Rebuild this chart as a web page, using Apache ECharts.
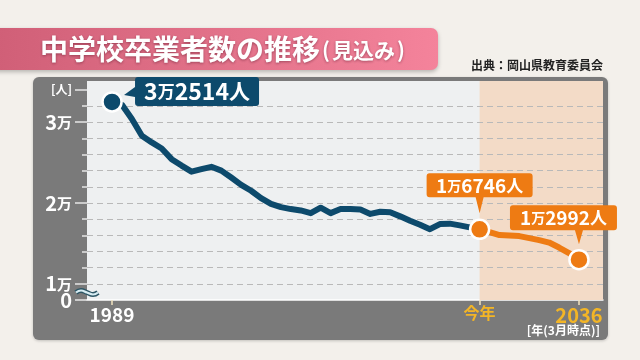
<!DOCTYPE html>
<html><head><meta charset="utf-8">
<script src="https://cdn.jsdelivr.net/npm/echarts@6/dist/echarts.min.js"></script>
<style>html,body{margin:0;padding:0;background:#f3f0eb;} #c{width:640px;height:360px;}</style>
</head><body><div id="c"></div>
<script>
// ---- text ----
const titleMain = '中学校卒業者数の推移';
const titleSub = '見込み';
const sourceText = '出典：岡山県教育委員会';
const unitX = '[年(3月時点)]';

// ---- data ----
const pastYears = [1989,1990,1991,1992,1993,1994,1995,1996,1997,1998,1999,2000,2001,2002,2003,2004,2005,2006,2007,2008,2009,2010,2011,2012,2013,2014,2015,2016,2017,2018,2019,2020,2021,2022,2023,2024,2025,2026];
const pastValues = [32514,32150,30400,28330,27500,26750,25430,24630,23880,24190,24480,24010,23150,22250,21520,20600,19900,19500,19250,19080,18750,19420,18750,19250,19250,19200,18650,18920,18850,18350,17800,17300,16760,17400,17450,17230,16980,16746];
const futureYears = [2026,2027,2028,2029,2030,2031,2032,2033,2034,2035,2036];
const futureValues = [16746,16410,16040,15980,15910,15660,15410,15110,14490,13810,12992];
const currentYear = 2026;

// ---- ticks ----
const xTickValues = [1989, 2026, 2036];
const xTickLabels = ['1989', '今年', '2036'];
const yTickValues = [8000,10000,12000,14000,16000,18000,20000,22000,24000,26000,28000,30000,32000,34000];
const yLabelValues = [10000, 20000, 30000, 34000];
const yLabelTexts = ['1万', '2万', '3万', '[人]'];
const yZeroValue = [8000];
const yZeroText = '0';
const yLongTickValues = [8000, 10000, 20000, 30000, 34000];

// ---- layout / style ----
const X_MIN = 1986.48, X_MAX = 2038.42, Y_MIN = 8000, Y_MAX = 35100;
const NAVY = '#0d4a6c', ORANGE = '#ee7b13', PEACH = '#f3dbc7', GOLD = '#f3b526';
const FONT = "'Noto Sans CJK JP','Noto Sans',sans-serif";

function manText(v) {
  const m = Math.floor(v / 10000);
  const r = String(v % 10000).padStart(4, '0');
  return '{n|' + m + '}{m|万}{n|' + r + '}{p|人}';
}
function calloutRich(big) {
  return {
    n: {fontSize: big ? 23 : 19, fontWeight: 'bold', color: '#fff', fontFamily: FONT},
    m: {fontSize: big ? 17 : 14, fontWeight: 'bold', color: '#fff', fontFamily: FONT},
    p: {fontSize: big ? 21 : 17, fontWeight: 'bold', color: '#fff', fontFamily: FONT}
  };
}

const pastData = pastYears.map((y, i) => i === 0
  ? {value: [y, pastValues[i]], symbol: 'circle', symbolSize: 19}
  : [y, pastValues[i]]);
const futureData = futureYears.map((y, i) => (i === 0 || i === futureYears.length - 1)
  ? {value: [y, futureValues[i]], symbol: 'circle', symbolSize: 19}
  : [y, futureValues[i]]);

const wave = [[76, 292.5], [81, 290.5], [87, 292.5], [93, 294.5], [98, 292.5]];
const titleShadow = {textShadowColor: 'rgba(90,20,40,0.5)', textShadowBlur: 3, textShadowOffsetY: 1};

const chart = echarts.init(document.getElementById('c'), null, {renderer: 'canvas'});
const option = {
  animation: false,
  backgroundColor: '#f3f0eb',
  textStyle: {fontFamily: FONT},
  grid: {left: 87, right: 37, top: 81, bottom: 60, show: true, backgroundColor: '#eef0f1', borderWidth: 0},
  xAxis: {
    type: 'value', min: X_MIN, max: X_MAX,
    splitLine: {show: false},
    axisLine: {show: true, lineStyle: {color: '#ffffff', width: 1.5}},
    axisTick: {show: true, customValues: xTickValues, length: 5, lineStyle: {color: '#f2e3c0', width: 1.5}},
    axisLabel: {
      show: true, customValues: xTickValues, margin: 5,
      formatter: v => {
        const i = xTickValues.indexOf(v);
        const t = xTickLabels[i];
        if (i === 0) return '{w|' + t + '}';
        if (i === 1) return '{g|' + t + '}';
        return '{G|' + t + '}';
      },
      rich: {
        w: {fontSize: 19, fontWeight: 'bold', color: '#fff', fontFamily: FONT},
        g: {fontSize: 16, fontWeight: 'bold', color: GOLD, fontFamily: FONT},
        G: {fontSize: 20, fontWeight: 'bold', color: GOLD, fontFamily: FONT}
      }
    }
  },
  yAxis: [{
    type: 'value', min: Y_MIN, max: Y_MAX, interval: 2000, z: 2,
    axisLine: {show: false},
    axisTick: {show: true, customValues: yTickValues, length: 5, lineStyle: {color: '#e6e6e6', width: 1.5}},
    splitLine: {show: true, showMinLine: false, showMaxLine: false, lineStyle: {color: '#b9b9b9', type: [6, 4], width: 1}},
    axisLabel: {
      show: true, customValues: yLabelValues, margin: 15, hideOverlap: false,
      formatter: v => {
        const t = yLabelTexts[yLabelValues.indexOf(v)];
        if (t.indexOf('万') >= 0) return '{n|' + t.replace('万', '') + '}{m|万}';
        return '{u|' + t + '}';
      },
      rich: {
        n: {fontSize: 20, fontWeight: 'bold', color: '#fff', fontFamily: FONT},
        m: {fontSize: 15, fontWeight: 'bold', color: '#fff', fontFamily: FONT},
        u: {fontSize: 12, fontWeight: 'bold', color: '#fff', fontFamily: FONT}
      }
    }
  }, {
    type: 'value', min: Y_MIN, max: Y_MAX, position: 'left', z: 2,
    axisLine: {show: false}, splitLine: {show: false},
    axisLabel: {show: true, customValues: yZeroValue, margin: 15, formatter: () => yZeroText,
      fontSize: 20, fontWeight: 'bold', color: '#fff', fontFamily: FONT, padding: [4, 0, 0, 0]},
    axisTick: {show: true, customValues: yLongTickValues, length: 12, lineStyle: {color: '#e6e6e6', width: 1.5}}
  }],
  series: [{
    type: 'line', data: pastData, symbol: 'none', z: 3,
    lineStyle: {color: NAVY, width: 6, cap: 'round', join: 'round'},
    itemStyle: {color: NAVY, borderColor: '#fff', borderWidth: 2.5},
    markArea: {silent: true, z: 1, itemStyle: {color: PEACH}, data: [[{xAxis: currentYear}, {xAxis: X_MAX}]]},
    markPoint: {
      silent: true,
      data: [{
        coord: [pastYears[0], pastValues[0]],
        symbol: 'path://M14 0L132 0Q135 0 135 3L135 26Q135 29 132 29L14 29Q11 29 11 26L11 20L0 18L11 10L11 3Q11 0 14 0Z',
        symbolSize: [135, 29], symbolOffset: [79.5, -10.5],
        itemStyle: {color: NAVY},
        label: {show: true, position: 'inside', offset: [5.5, 0], formatter: manText(pastValues[0]), rich: calloutRich(true)}
      }]
    }
  }, {
    type: 'line', data: futureData, symbol: 'none', z: 4,
    lineStyle: {color: ORANGE, width: 6, cap: 'round', join: 'round'},
    itemStyle: {color: ORANGE, borderColor: '#fff', borderWidth: 2.5},
    markPoint: {
      silent: true,
      data: [{
        coord: [futureYears[0], futureValues[0]],
        symbol: 'path://M3 0L103 0Q106 0 106 3L106 21Q106 24 103 24L57 24L53 40L49 24L3 24Q0 24 0 21L0 3Q0 0 3 0Z',
        symbolSize: [106, 40], symbolOffset: [0, -36],
        itemStyle: {color: ORANGE},
        label: {show: true, position: 'inside', offset: [0, -8], formatter: manText(futureValues[0]), rich: calloutRich(false)}
      }, {
        coord: [futureYears[futureYears.length - 1], futureValues[futureValues.length - 1]],
        symbol: 'path://M3 0L104 0Q107 0 107 3L107 22Q107 25 104 25L73 25L69 39L65 25L3 25Q0 25 0 22L0 3Q0 0 3 0Z',
        symbolSize: [107, 39], symbolOffset: [-15.5, -35],
        itemStyle: {color: ORANGE},
        label: {show: true, position: 'inside', offset: [0, -7], formatter: manText(futureValues[futureValues.length - 1]), rich: calloutRich(false)}
      }]
    }
  }],
  graphic: [
    {type: 'rect', z: -20, silent: true, shape: {x: 33, y: 77, width: 575, height: 263, r: 6},
      style: {fill: '#7a7a7a', shadowBlur: 3, shadowColor: 'rgba(0,0,0,0.2)', shadowOffsetY: 1}},
    {type: 'rect', z: 10, silent: true, shape: {x: -6, y: 28, width: 444, height: 42, r: [0, 7, 7, 0]},
      style: {fill: new echarts.graphic.LinearGradient(0, 0, 1, 0, [{offset: 0, color: '#d05f77'}, {offset: 1, color: '#f4839b'}]),
        shadowBlur: 4, shadowColor: 'rgba(0,0,0,0.25)', shadowOffsetY: 2}},
    {type: 'text', z: 11, silent: true, x: 40, y: 49,
      style: {text: '{t|' + titleMain + '}{p|(}{s|' + titleSub + '}{p|)}', verticalAlign: 'middle', align: 'left',
        rich: {
          t: Object.assign({fontSize: 28, fontWeight: 'bold', fill: '#fff', fontFamily: FONT}, titleShadow),
          p: Object.assign({fontSize: 21, fontWeight: 'bold', fill: '#fff', fontFamily: FONT, padding: [2, 2, 0, 2]}, titleShadow),
          s: Object.assign({fontSize: 21, fontWeight: 'bold', fill: '#fff', fontFamily: FONT, padding: [2, 0, 0, 0]}, titleShadow)
        }}},
    {type: 'text', z: 11, silent: true, x: 603, y: 65,
      style: {text: sourceText, align: 'right', verticalAlign: 'middle', fontSize: 12, fontWeight: 'bold', fill: '#222', fontFamily: FONT}},
    {type: 'text', z: 11, silent: true, x: 600, y: 330,
      style: {text: unitX, align: 'right', verticalAlign: 'middle', fontSize: 12, fontWeight: 'bold', fill: '#fff', fontFamily: FONT}},
    {type: 'polyline', z: 100, silent: true, shape: {points: wave, smooth: 0.5},
      style: {stroke: '#2d5665', lineWidth: 5, fill: null}},
    {type: 'polyline', z: 101, silent: true, shape: {points: wave, smooth: 0.5},
      style: {stroke: '#d6ecf2', lineWidth: 2.2, fill: null}}
  ]
};
chart.setOption(option);
</script></body></html>
